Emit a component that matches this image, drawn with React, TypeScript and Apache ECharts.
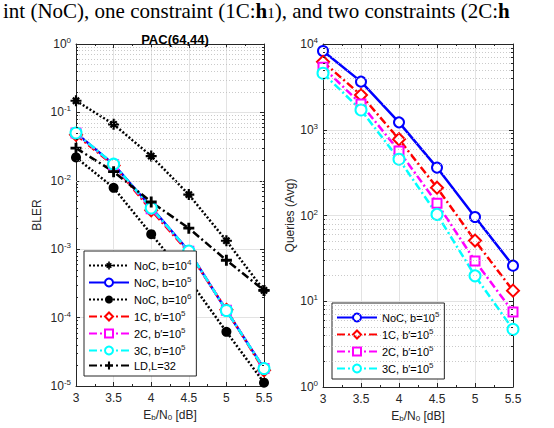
import React, { useEffect, useRef } from "react";
import * as echarts from "echarts";

const xs = [3, 3.5, 4, 4.5, 5, 5.5];
const xTicks = [3, 3.5, 4, 4.5, 5, 5.5];

// BLER (left)
const blerNoC1e4 = [0.148, 0.067, 0.023, 0.0063, 0.00133, 2.5e-4];
const blerNoC1e5 = [0.05, 0.0174, 0.0041, 9.4e-4, 1.27e-4, 1.8e-5];
const blerNoC1e6 = [0.022, 0.0079, 0.00166, 3.6e-4, 6.2e-5, 1.12e-5];
const bler1C = [0.047, 0.0168, 0.0037, 9.0e-4, 1.3e-4, 1.7e-5];
const bler2C = [0.05, 0.0172, 0.0039, 9.3e-4, 1.28e-4, 1.8e-5];
const bler3C = [0.05, 0.0175, 0.004, 9.4e-4, 1.27e-4, 1.8e-5];
const blerLD = [0.03, 0.0136, 0.0049, 0.00203, 6.9e-4, 2.5e-4];

// Queries (right)
const qNoC = [8300, 3640, 1220, 362, 96, 26];
const q1C = [6200, 2540, 775, 211, 51, 13.3];
const q2C = [5340, 2000, 565, 139, 29.5, 7.5];
const q3C = [4560, 1700, 453, 103, 19.8, 4.7];

const leftDecades = [-5, -4, -3, -2, -1];
const rightDecades = [0, 1, 2, 3];
const minorMult = [2, 3, 4, 5, 6, 7, 8, 9];

const labels: Record<string, string> = {
  noc4: "NoC, b=10{sup|4}",
  noc5: "NoC, b=10{sup|5}",
  noc6: "NoC, b=10{sup|6}",
  c1: "1C, b\u2032=10{sup|5}",
  c2: "2C, b\u2032=10{sup|5}",
  c3: "3C, b\u2032=10{sup|5}",
  ld: "LD,L=32",
  qnoc: "NoC, b=10{sup|5}",
  q1: "1C, b\u2032=10{sup|5}",
  q2: "2C, b\u2032=10{sup|5}",
  q3: "3C, b\u2032=10{sup|5}",
};

const ASTERISK =
  "path://M-1,-5 L1,-5 L1,5 L-1,5 Z M-5,-1 L5,-1 L5,1 L-5,1 Z M3.54,2.12 L2.12,3.54 L-3.54,-2.12 L-2.12,-3.54 Z M-3.54,2.12 L2.12,-3.54 L3.54,-2.12 L-2.12,3.54 Z";
const PLUS = "path://M-1.3,-5 L1.3,-5 L1.3,5 L-1.3,5 Z M-5,-1.3 L5,-1.3 L5,1.3 L-5,1.3 Z";

const FONT = "Liberation Sans";
const AX = "#262626";
const DOT = [2, 2];
const DASHDOT = [8, 3, 2, 3];

const pairs = (ys: number[]) => xs.map((x, i) => [x, ys[i]]);
const powFmt = (v: number) => `10{sup|${Math.round(Math.log10(v))}}`;
const supRich = {
  sup: { fontSize: 8, padding: [0, 0, 7, 0], fontFamily: FONT, color: AX },
};

export default function App() {
  const ref = useRef<HTMLDivElement>(null);
  useEffect(() => {
    if (!ref.current) return;
    const chart = echarts.init(ref.current, undefined, { renderer: "svg" });

    const minorVals = (decs: number[]) =>
      decs.flatMap((d) => minorMult.map((m) => m * Math.pow(10, d)));

    const xAxisBase = (gi: number) => ({
      type: "value",
      gridIndex: gi,
      min: 3,
      max: 5.5,
      interval: 0.5,
      axisLine: { show: true, lineStyle: { color: AX, width: 1 } },
      axisTick: { show: true, inside: true, length: 4, lineStyle: { color: AX } },
      minorTick: { show: true, splitNumber: 2, length: 2, lineStyle: { color: AX } },
      splitLine: { show: true, lineStyle: { color: "#e3e3e3", width: 1 } },
      axisLabel: {
        show: true,
        fontFamily: FONT,
        fontSize: 12,
        color: AX,
        margin: 6,
        customValues: xTicks,
      },
      name: "E{sub|b}/N{sub|0} [dB]",
      nameLocation: "middle",
      nameGap: 19,
      nameTextStyle: {
        fontFamily: FONT,
        fontSize: 12,
        color: AX,
        rich: { sub: { fontSize: 8, padding: [5, 0, 0, 0], fontFamily: FONT, color: AX } },
      },
    });
    const xAxisTop = (gi: number) => ({
      type: "value",
      gridIndex: gi,
      position: "top",
      min: 3,
      max: 5.5,
      interval: 0.5,
      axisLine: { show: true, lineStyle: { color: AX, width: 1 } },
      axisTick: { show: true, inside: true, length: 4, lineStyle: { color: AX } },
      minorTick: { show: true, splitNumber: 2, length: 2, lineStyle: { color: AX } },
      splitLine: { show: false },
      axisLabel: { show: false },
    });
    const yAxisBase = (gi: number, min: number, max: number, name: string, gap: number) => ({
      type: "log",
      logBase: 10,
      gridIndex: gi,
      min,
      max,
      axisLine: { show: true, lineStyle: { color: AX, width: 1 } },
      axisTick: { show: true, inside: true, length: 4, lineStyle: { color: AX } },
      splitLine: { show: true, lineStyle: { color: "#e3e3e3", width: 1 } },
      axisLabel: {
        fontFamily: FONT,
        fontSize: 12,
        color: AX,
        margin: 5,
        formatter: powFmt,
        rich: supRich,
      },
      name,
      nameLocation: "middle",
      nameGap: gap,
      nameTextStyle: { fontFamily: FONT, fontSize: 12, color: AX },
    });
    const yAxisRight = (gi: number, min: number, max: number) => ({
      type: "log",
      logBase: 10,
      gridIndex: gi,
      position: "right",
      min,
      max,
      axisLine: { show: true, lineStyle: { color: AX, width: 1 } },
      axisTick: { show: true, inside: true, length: 4, lineStyle: { color: AX } },
      splitLine: { show: false },
      axisLabel: { show: false },
    });

    const mk = (
      name: string,
      data: number[],
      xi: number,
      yi: number,
      color: string,
      dash: any,
      symbol: string,
      size: number,
      bw = 2
    ) => ({
      type: "line",
      name,
      xAxisIndex: xi,
      yAxisIndex: yi,
      data: pairs(data),
      z: 3,
      color,
      symbol,
      symbolSize: size,
      symbolKeepAspect: true,
      showAllSymbol: true,
      lineStyle: { color, width: 2.5, type: dash, cap: "butt" },
      itemStyle: { color, borderColor: color, borderWidth: bw },
    });

    // minor grid lines + minor ticks for log axes
    const dummy = (xi: number, yi: number, decs: number[], tickLen: number) => {
      const vals = minorVals(decs);
      const grid = vals.map((v) => ({ yAxis: v }));
      const tickStyle = { color: AX, width: 1, type: "solid" };
      const ticks = vals.flatMap((v) => [
        [
          { coord: [3, v], lineStyle: tickStyle },
          { coord: [3 + tickLen, v] },
        ],
        [
          { coord: [5.5 - tickLen, v], lineStyle: tickStyle },
          { coord: [5.5, v] },
        ],
      ]);
      return {
        type: "line",
        xAxisIndex: xi,
        yAxisIndex: yi,
        data: [],
        z: 1,
        silent: true,
        markLine: {
          silent: true,
          symbol: ["none", "none"],
          label: { show: false },
          animation: false,
          lineStyle: { color: "#bdbdbd", width: 0.8, type: [1, 2] },
          data: [...grid, ...ticks],
        },
      };
    };

    const legendCommon = {
      orient: "vertical",
      backgroundColor: "#fff",
      borderColor: AX,
      borderWidth: 1,
      borderRadius: 0,
      padding: [7, 5, 5, 4],
      itemWidth: 40,
      itemHeight: 10,
      itemGap: 4,
      textStyle: { fontFamily: FONT, fontSize: 11, color: "#000", rich: supRich },
      formatter: (n: string) => labels[n] ?? n,
      selectedMode: false,
    };

    chart.setOption({
      animation: false,
      backgroundColor: "#fff",
      title: {
        text: "PAC(64,44)",
        left: 170,
        top: 28,
        textAlign: "center",
        textStyle: { fontFamily: FONT, fontSize: 13, fontWeight: "bold", color: "#000" },
      },
      graphic: [
        {
          type: "text",
          left: 3,
          top: 0,
          style: {
            text: "int (NoC), one constraint (1C:{b|h}{sub|1}), and two constraints (2C:{b|h}",
            fontFamily: "Liberation Serif",
            fontSize: 21,
            fill: "#000",
            rich: {
              b: { fontFamily: "Liberation Serif", fontSize: 21, fontWeight: "bold", fill: "#000" },
              sub: { fontFamily: "Liberation Serif", fontSize: 15, padding: [5, 0, 0, 0], fill: "#000" },
            },
          },
        },
      ],
      grid: [
        { left: 76, top: 44, width: 188, height: 342, containLabel: false },
        { left: 323, top: 44, width: 190, height: 343, containLabel: false },
      ],
      xAxis: [xAxisBase(0), xAxisTop(0), xAxisBase(1), xAxisTop(1)],
      yAxis: [
        yAxisBase(0, 1e-5, 1, "BLER", 33),
        yAxisRight(0, 1e-5, 1),
        yAxisBase(1, 1, 1e4, "Queries (Avg)", 25),
        yAxisRight(1, 1, 1e4),
      ],
      legend: [
        {
          ...legendCommon,
          left: 84,
          top: 251,
          data: ["noc4", "noc5", "noc6", "c1", "c2", "c3", "ld"],
        },
        {
          ...legendCommon,
          left: 332,
          top: 303,
          data: ["qnoc", "q1", "q2", "q3"],
        },
      ],
      series: [
        dummy(0, 0, leftDecades, 0.027),
        dummy(2, 2, rightDecades, 0.027),
        mk("noc4", blerNoC1e4, 0, 0, "#000000", DOT, ASTERISK, 11, 0),
        mk("noc5", blerNoC1e5, 0, 0, "#0000ff", "solid", "emptyCircle", 10),
        mk("noc6", blerNoC1e6, 0, 0, "#000000", DOT, "circle", 10, 0),
        mk("c1", bler1C, 0, 0, "#ff0000", DASHDOT, "emptyDiamond", 12),
        mk("c2", bler2C, 0, 0, "#ff00ff", DASHDOT, "emptyRect", 9),
        mk("c3", bler3C, 0, 0, "#00ffff", DASHDOT, "emptyCircle", 11),
        mk("ld", blerLD, 0, 0, "#000000", DASHDOT, PLUS, 11, 0),
        mk("qnoc", qNoC, 2, 2, "#0000ff", "solid", "emptyCircle", 10),
        mk("q1", q1C, 2, 2, "#ff0000", DASHDOT, "emptyDiamond", 12),
        mk("q2", q2C, 2, 2, "#ff00ff", DASHDOT, "emptyRect", 9),
        mk("q3", q3C, 2, 2, "#00ffff", DASHDOT, "emptyCircle", 11),
      ],
    });
    return () => chart.dispose();
  }, []);
  return (
    <div
      ref={ref}
      style={{ position: "fixed", left: 0, top: 0, width: 554, height: 428 }}
    />
  );
}
